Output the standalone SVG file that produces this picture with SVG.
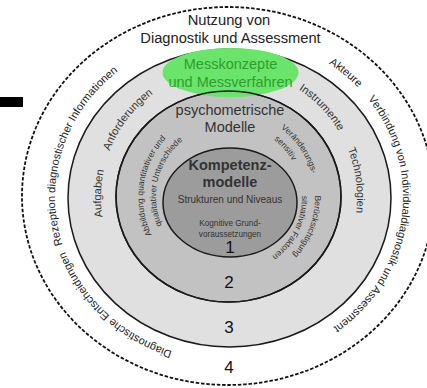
<svg xmlns="http://www.w3.org/2000/svg" width="427" height="388" viewBox="0 0 427 388">
<style>
.ring{stroke:#1a1a1a;stroke-width:1.5}
.t4{font-family:"Liberation Sans",Arial,sans-serif;font-size:11px;fill:#222}
.t3{font-family:"Liberation Sans",Arial,sans-serif;font-size:11px;fill:#333}
.t2{font-family:"Liberation Sans",Arial,sans-serif;font-size:8.5px;fill:#333}
.c{font-family:"Liberation Sans",Arial,sans-serif;text-anchor:middle}
</style>
<defs>
<path id="p4a" d="M172.3 351.1 A174 163 0 0 1 55.7 211.2"/>
<path id="p4b" d="M62.6 244.7 A174 163 0 0 1 213.8 34.6"/>
<path id="p4c" d="M328.8 63.5 A174 163 0 0 1 366.1 96.6"/>
<path id="p4d" d="M368 98.9 A174 163 0 0 1 274 354.4"/>
<path id="p3a" d="M102.6 217 A128 128 0 0 1 107.3 157.4"/>
<path id="p3b" d="M109.5 151.1 A128 128 0 0 1 174.9 81"/>
<path id="p3c" d="M298.7 89.6 A128 128 0 0 1 345.9 144.9"/>
<path id="p3d" d="M347.7 149.1 A128 128 0 0 1 349.3 240.8"/>
<path id="p2a" d="M151.7 234.7 A86 86 0 0 1 179.7 126.5"/>
<path id="p2b" d="M161.8 225.5 A73 73 0 0 1 192.5 133.8"/>
<path id="p2c" d="M280.8 128.3 A86 86 0 0 1 314.2 185"/>
<path id="p2d" d="M273.9 139.5 A73 73 0 0 1 299.5 178.1"/>
<path id="p2e" d="M315 195.5 A86 86 0 0 1 265.3 274.9"/>
<path id="p2f" d="M302 195.7 A73 73 0 0 1 251.6 266.4"/>
</defs>
<rect x="0" y="97" width="23" height="10" fill="#000"/>
<g id="ring4">
<ellipse cx="228" cy="196" rx="206" ry="189" fill="none" stroke="#111" stroke-width="1.8" stroke-dasharray="3.5 1.8"/>
</g>
<g id="ring3">
<ellipse class="ring" cx="229.5" cy="198" rx="161.5" ry="149" fill="#e0e0e0"/>
</g>
<g id="ring2">
<ellipse class="ring" cx="228.5" cy="196.5" rx="112.5" ry="105.5" fill="#c2c2c2"/>
</g>
<g id="ring1">
<ellipse class="ring" cx="230" cy="202.5" rx="67" ry="54.5" fill="#9c9c9c"/>
</g>
<g id="messkonzepte">
<ellipse cx="230.5" cy="72.5" rx="68" ry="24.5" fill="#6ae46a"/>
<text class="c" x="230.5" y="69" font-size="14.5" fill="#2f9e2f">Messkonzepte</text>
<text class="c" x="230.5" y="87" font-size="14.5" fill="#2f9e2f">und Messverfahren</text>
</g>
<g id="connectors">
<ellipse class="ring" cx="228.5" cy="196.5" rx="112.5" ry="105.5" fill="none"/>
</g>
<g id="labels4">
<text class="c" x="229" y="25" font-size="14.7" fill="#222">Nutzung von</text>
<text class="c" x="230.5" y="43" font-size="14.7" fill="#222">Diagnostik und Assessment</text>
<text class="t4" font-size="10.5"><textPath href="#p4a">Diagnostische Entscheidungen</textPath></text>
<text class="t4"><textPath href="#p4b">Rezeption diagnostischer Informationen</textPath></text>
<text class="t4"><textPath href="#p4c">Akteure</textPath></text>
<text class="t4"><textPath href="#p4d">Verbindung von Individualdiagnostik und Assessment</textPath></text>
<text class="c" x="229" y="373" font-size="17" fill="#111">4</text>
</g>
<g id="labels3">
<text class="t3"><textPath href="#p3a">Aufgaben</textPath></text>
<text class="t3"><textPath href="#p3b">Anforderungen</textPath></text>
<text class="t3"><textPath href="#p3c">Instrumente</textPath></text>
<text class="t3"><textPath href="#p3d">Technologien</textPath></text>
<text class="c" x="229" y="333" font-size="17" fill="#111">3</text>
</g>
<g id="labels2">
<text class="c" x="230" y="115" font-size="14.5" fill="#333">psychometrische</text>
<text class="c" x="230" y="132" font-size="14.5" fill="#333">Modelle</text>
<text class="t2"><textPath href="#p2a">Abbildung quantitativer und</textPath></text>
<text class="t2"><textPath href="#p2b">qualitativer Unterschiede</textPath></text>
<text class="t2"><textPath href="#p2c">Veränderungs-</textPath></text>
<text class="t2"><textPath href="#p2d">sensitiv</textPath></text>
<text class="t2"><textPath href="#p2e">Berücksichtigung</textPath></text>
<text class="t2"><textPath href="#p2f">situativer Faktoren</textPath></text>
<text class="c" x="229" y="288" font-size="17" fill="#111">2</text>
</g>
<g id="labels1">
<text class="c" x="230" y="170" font-size="14.5" font-weight="bold" fill="#333">Kompetenz-</text>
<text class="c" x="230" y="187" font-size="14.5" font-weight="bold" fill="#333">modelle</text>
<text class="c" x="230" y="203" font-size="10" fill="#333">Strukturen und Niveaus</text>
<text class="c" x="230" y="226" font-size="8.2" fill="#333">Kognitive Grund-</text>
<text class="c" x="230" y="237" font-size="8.2" fill="#333">voraussetzungen</text>
<text class="c" x="230" y="253" font-size="17" fill="#111">1</text>
</g>
</svg>
